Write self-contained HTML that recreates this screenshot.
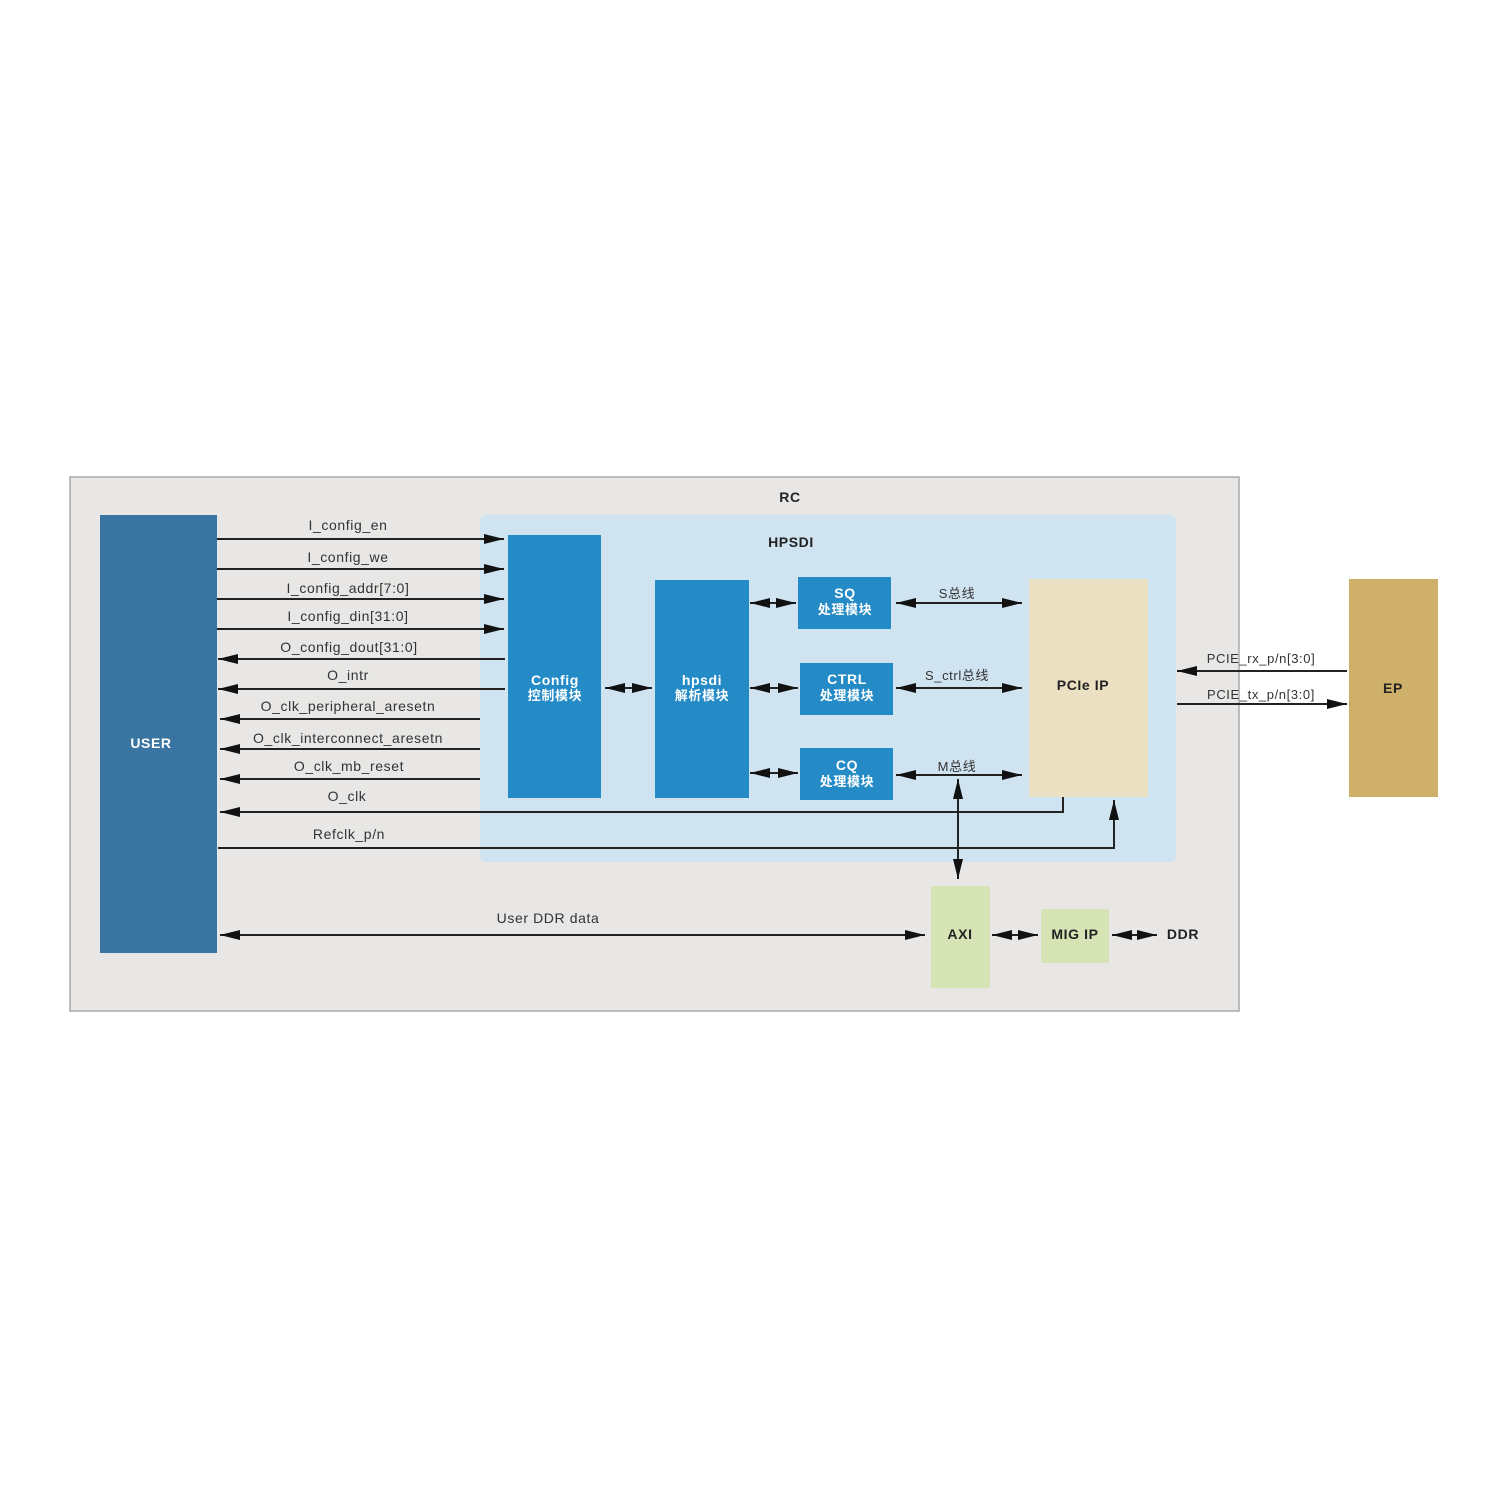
<!DOCTYPE html>
<html><head><meta charset="utf-8"><style>body{margin:0;background:#fff}svg text{font-family:"Liberation Sans","Noto Sans CJK SC",sans-serif;letter-spacing:0.6px}</style></head><body>
<svg width="1500" height="1500" viewBox="0 0 1500 1500" xmlns="http://www.w3.org/2000/svg">
<defs><marker id="a" viewBox="0 0 20 10" refX="20" refY="5" markerWidth="20" markerHeight="10" markerUnits="userSpaceOnUse" orient="auto-start-reverse"><path d="M0,0L20,5L0,10z" fill="#111"/></marker></defs>
<rect x="0" y="0" width="1500" height="1500" fill="#fff"/>
<rect x="70" y="477" width="1169" height="534" fill="#e8e7e5" stroke="#aaa" stroke-width="1.5"/>
<text x="790" y="502" font-size="14" font-weight="bold" text-anchor="middle" fill="#222">RC</text>
<rect x="480" y="515" width="696" height="347" rx="6" fill="#cfe3f1"/>
<text x="791" y="547" font-size="14" font-weight="bold" text-anchor="middle" fill="#222">HPSDI</text>
<rect x="100" y="515" width="117" height="438" fill="#3a74a0"/>
<text x="151" y="748" font-size="14" font-weight="bold" text-anchor="middle" fill="#fff">USER</text>
<g fill="#258bc6">
<rect x="508" y="535" width="93" height="263"/><rect x="655" y="580" width="94" height="218"/>
<rect x="798" y="577" width="93" height="52"/><rect x="800" y="663" width="93" height="52"/><rect x="800" y="748" width="93" height="52"/></g>
<g fill="#fff" font-size="14" font-weight="bold" text-anchor="middle">
<text x="555" y="685">Config</text><text x="555" y="700" font-size="13">控制模块</text>
<text x="702" y="685">hpsdi</text><text x="702" y="700" font-size="13">解析模块</text>
<text x="845" y="598">SQ</text><text x="845" y="614" font-size="13">处理模块</text>
<text x="847" y="684">CTRL</text><text x="847" y="700" font-size="13">处理模块</text>
<text x="847" y="770">CQ</text><text x="847" y="786" font-size="13">处理模块</text></g>
<rect x="1029" y="579" width="119" height="218" fill="#ebe0c2"/>
<text x="1083" y="690" font-size="14" font-weight="bold" text-anchor="middle" fill="#222">PCIe IP</text>
<rect x="1349" y="579" width="89" height="218" fill="#cfb06b"/>
<text x="1393" y="693" font-size="14" font-weight="bold" text-anchor="middle" fill="#222">EP</text>
<rect x="931" y="886" width="59" height="102" fill="#d6e4b5"/>
<text x="960" y="939" font-size="14" font-weight="bold" text-anchor="middle" fill="#222">AXI</text>
<rect x="1041" y="909" width="68" height="54" fill="#d6e4b5"/>
<text x="1075" y="939" font-size="14" font-weight="bold" text-anchor="middle" fill="#222">MIG IP</text>
<text x="1183" y="939" font-size="14" font-weight="bold" text-anchor="middle" fill="#222">DDR</text>
<g stroke="#222" stroke-width="2" fill="none">
<line x1="217" y1="539" x2="504" y2="539" marker-end="url(#a)"/>
<line x1="217" y1="569" x2="504" y2="569" marker-end="url(#a)"/>
<line x1="217" y1="599" x2="504" y2="599" marker-end="url(#a)"/>
<line x1="217" y1="629" x2="504" y2="629" marker-end="url(#a)"/>
<line x1="505" y1="659" x2="218" y2="659" marker-end="url(#a)"/>
<line x1="505" y1="689" x2="218" y2="689" marker-end="url(#a)"/>
<line x1="480" y1="719" x2="220" y2="719" marker-end="url(#a)"/>
<line x1="480" y1="749" x2="220" y2="749" marker-end="url(#a)"/>
<line x1="480" y1="779" x2="220" y2="779" marker-end="url(#a)"/>
<polyline points="1063,797 1063,812 220,812" marker-end="url(#a)"/>
<polyline points="218,848 1114,848 1114,800" marker-end="url(#a)"/>
<line x1="605" y1="688" x2="652" y2="688" marker-start="url(#a)" marker-end="url(#a)"/>
<line x1="750" y1="603" x2="796" y2="603" marker-start="url(#a)" marker-end="url(#a)"/>
<line x1="750" y1="688" x2="798" y2="688" marker-start="url(#a)" marker-end="url(#a)"/>
<line x1="750" y1="773" x2="798" y2="773" marker-start="url(#a)" marker-end="url(#a)"/>
<line x1="896" y1="603" x2="1022" y2="603" marker-start="url(#a)" marker-end="url(#a)"/>
<line x1="896" y1="688" x2="1022" y2="688" marker-start="url(#a)" marker-end="url(#a)"/>
<line x1="896" y1="775" x2="1022" y2="775" marker-start="url(#a)" marker-end="url(#a)"/>
<line x1="958" y1="779" x2="958" y2="879" marker-start="url(#a)" marker-end="url(#a)"/>
<line x1="220" y1="935" x2="925" y2="935" marker-start="url(#a)" marker-end="url(#a)"/>
<line x1="992" y1="935" x2="1038" y2="935" marker-start="url(#a)" marker-end="url(#a)"/>
<line x1="1112" y1="935" x2="1157" y2="935" marker-start="url(#a)" marker-end="url(#a)"/>
<line x1="1347" y1="671" x2="1177" y2="671" marker-end="url(#a)"/>
<line x1="1177" y1="704" x2="1347" y2="704" marker-end="url(#a)"/>
</g>
<g font-size="14" fill="#333" text-anchor="middle">
<text x="348" y="530">I_config_en</text><text x="348" y="562">I_config_we</text>
<text x="348" y="593">I_config_addr[7:0]</text><text x="348" y="621">I_config_din[31:0]</text>
<text x="349" y="652">O_config_dout[31:0]</text><text x="348" y="680">O_intr</text>
<text x="348" y="711">O_clk_peripheral_aresetn</text><text x="348" y="743">O_clk_interconnect_aresetn</text>
<text x="349" y="771">O_clk_mb_reset</text><text x="347" y="801">O_clk</text>
<text x="349" y="839">Refclk_p/n</text><text x="548" y="923">User DDR data</text>
<text x="957" y="598" font-size="13">S总线</text><text x="957" y="680" font-size="13">S_ctrl总线</text><text x="957" y="771" font-size="13">M总线</text>
<text x="1261" y="663" font-size="13">PCIE_rx_p/n[3:0]</text><text x="1261" y="699" font-size="13">PCIE_tx_p/n[3:0]</text>
</g>
</svg>
</body></html>
